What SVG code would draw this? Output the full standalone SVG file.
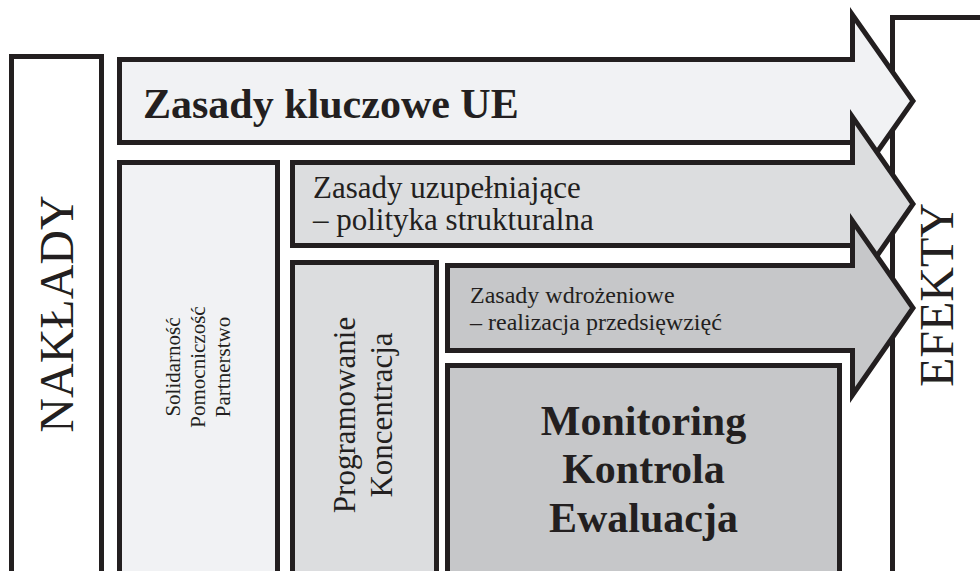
<svg xmlns="http://www.w3.org/2000/svg" width="980" height="571" viewBox="0 0 980 571">
<style>
.sh{stroke:#231f20;stroke-width:5;stroke-linejoin:miter;stroke-miterlimit:10}
.w{fill:#ffffff}
.l1{fill:#f1f2f4}
.l2{fill:#dcdddf}
.l3{fill:#c6c7c9}
text{font-family:"Liberation Serif","Times New Roman",serif;fill:#231f20}
.b{font-weight:bold}
</style>
<rect width="980" height="571" fill="#ffffff"/>
<g id="efekty">
<rect class="sh w" x="892.5" y="17.5" width="120" height="600"/>
<text transform="translate(953,295) rotate(-90)" text-anchor="middle" font-size="48">EFEKTY</text>
</g>
<g id="naklady">
<rect class="sh w" x="11.5" y="56.5" width="90" height="560"/>
<text transform="translate(73,314) rotate(-90)" text-anchor="middle" font-size="48">NAKŁADY</text>
</g>
<g id="solidarnosc">
<rect class="sh l1" x="119.5" y="162.5" width="158" height="450"/>
<text transform="translate(180,367) rotate(-90)" text-anchor="middle" font-size="21"><tspan x="0" y="0">Solidarność</tspan><tspan x="0" y="25">Pomocniczość</tspan><tspan x="0" y="50">Partnerstwo</tspan></text>
</g>
<g id="programowanie">
<rect class="sh l2" x="292.5" y="262.5" width="144" height="350"/>
<text transform="translate(355,415) rotate(-90)" text-anchor="middle" font-size="31"><tspan x="0" y="0">Programowanie</tspan><tspan x="0" y="37">Koncentracja</tspan></text>
</g>
<g id="monitoring">
<rect class="sh l3" x="447.5" y="365.5" width="392" height="250"/>
<text class="b" text-anchor="middle" font-size="42"><tspan x="643.5" y="435">Monitoring</tspan><tspan x="643.5" y="483">Kontrola</tspan><tspan x="643.5" y="532">Ewaluacja</tspan></text>
</g>
<g id="zasady-kluczowe">
<path class="sh l1" d="M119.5,59.5 H852.5 V15 L913,101 L852.5,187 V142.5 H119.5 Z"/>
<text class="b" x="143" y="118" font-size="42">Zasady kluczowe UE</text>
</g>
<g id="zasady-uzupelniajace">
<path class="sh l2" d="M292.5,162.5 H852.5 V117 L913,204 L852.5,291 V245.5 H292.5 Z"/>
<text font-size="31"><tspan x="313" y="198">Zasady uzupełniające</tspan><tspan x="313" y="230">– polityka strukturalna</tspan></text>
</g>
<g id="zasady-wdrozeniowe">
<path class="sh l3" d="M447.5,265.5 H852.5 V221 L913,308 L852.5,395 V350.5 H447.5 Z"/>
<text font-size="24"><tspan x="470" y="303">Zasady wdrożeniowe</tspan><tspan x="470" y="330">– realizacja przedsięwzięć</tspan></text>
</g>
<g id="connectors"></g>
</svg>
